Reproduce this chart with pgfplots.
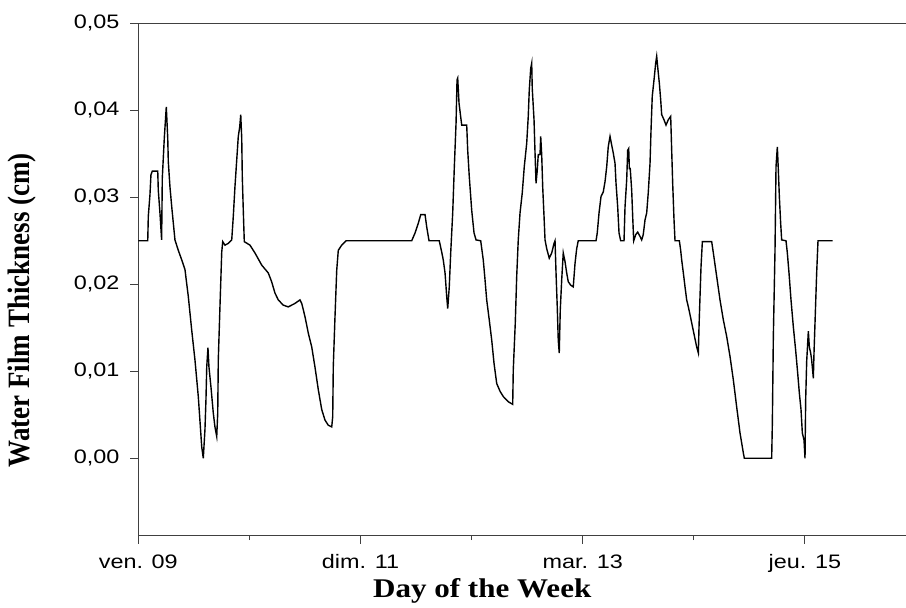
\documentclass[border=0pt]{standalone}
\usepackage{fontspec}
\setmainfont{Liberation Sans}
\newfontfamily\timesfont{Liberation Serif}
\usepackage{pgfplots}
\pgfplotsset{compat=1.18}
\begin{document}
\begin{tikzpicture}
\useasboundingbox (-69.15pt,-36.15pt) rectangle (383.85pt,267.85pt);
\begin{axis}[
  scale only axis, width=383.85pt, height=256.2pt,
  xmin=0, xmax=6.91, ymin=-0.0089, ymax=0.05,
  axis x line*=bottom, axis y line*=left,
  axis line style={draw=black!75, line width=0.6pt},
  xtick={0,2,4,6}, xticklabels={ven. 09, dim. 11, mar. 13, jeu. 15},
  minor xtick={1,3,5},
  ytick={0,0.01,0.02,0.03,0.04,0.05},
  tick align=outside,
  major tick length=4pt, minor tick length=2.2pt,
  every tick/.style={draw=black!75, line width=0.6pt},
  scaled y ticks=false,
  /pgf/number format/.cd, use comma, fixed, fixed zerofill, precision=2, assume math mode=true,
  /pgfplots/.cd,
  tick label style={font=\fontsize{9.75}{11}\selectfont, xscale=1.2},
  xticklabel style={yshift=-2pt},
  yticklabel style={xshift=-1pt},
  xlabel={Day of the Week}, ylabel={Water Film Thickness (cm)},
  label style={font=\timesfont\bfseries\fontsize{13.5}{15}\selectfont},
  xlabel style={at={(axis description cs:0.448,-0.108)}, anchor=center, xscale=1.15},
  ylabel style={at={(axis description cs:-0.1515,0.44)}, anchor=center, yscale=1.15},
]
\draw[black!75, line width=0.6pt] (rel axis cs:0,1) -- (rel axis cs:1,1);
\addplot[black, line width=0.7pt, mark=none] coordinates {
(0,0.025) (0.085,0.025) (0.09,0.0278) (0.105,0.0303) (0.114,0.0326) (0.126,0.033) (0.175,0.033)
(0.18,0.0308) (0.195,0.0282) (0.21,0.0251) (0.216,0.0322) (0.234,0.0368) (0.252,0.0404)
(0.265,0.0368) (0.27,0.0341) (0.285,0.0312) (0.301,0.0289) (0.33,0.0251) (0.36,0.0239)
(0.391,0.0228) (0.42,0.0217) (0.45,0.0186) (0.481,0.0147) (0.51,0.0113) (0.54,0.0071)
(0.571,0.0013) (0.585,0.0) (0.6,0.0033) (0.609,0.0067) (0.616,0.0105) (0.627,0.0127)
(0.636,0.0105) (0.654,0.0082) (0.675,0.0052) (0.69,0.0036) (0.706,0.0025) (0.715,0.0052)
(0.72,0.0113) (0.735,0.0174) (0.751,0.0237) (0.76,0.0249) (0.78,0.0245) (0.81,0.0247)
(0.841,0.0251) (0.855,0.0278) (0.87,0.0312) (0.886,0.0343) (0.9,0.037) (0.913,0.0381)
(0.922,0.0395) (0.931,0.0368) (0.936,0.0324) (0.945,0.0285) (0.954,0.0249) (1.005,0.0245)
(1.05,0.0236) (1.111,0.0222) (1.17,0.0213) (1.2,0.0203) (1.23,0.019) (1.26,0.0182)
(1.305,0.0176) (1.35,0.0174) (1.41,0.0178) (1.455,0.0182) (1.471,0.0178) (1.5,0.0163)
(1.53,0.0144) (1.561,0.0128) (1.59,0.0105) (1.62,0.0079) (1.651,0.0056) (1.68,0.0044)
(1.71,0.0038) (1.741,0.0036)
(1.75,0.0048) (1.755,0.0105) (1.77,0.0161) (1.786,0.0216) (1.8,0.0239) (1.831,0.0245)
(1.87,0.025) (2.461,0.025) (2.491,0.0259) (2.52,0.027) (2.542,0.028) (2.581,0.028)
(2.596,0.0266) (2.617,0.025) (2.709,0.025) (2.731,0.0237) (2.745,0.0228) (2.761,0.0213)
(2.776,0.0186) (2.785,0.0172) (2.799,0.0197) (2.812,0.0236) (2.83,0.0282) (2.844,0.0333)
(2.86,0.0385) (2.869,0.0435) (2.875,0.0437) (2.887,0.0408) (2.911,0.0383) (2.956,0.0383)
(2.965,0.0354) (2.979,0.0324) (3.001,0.0285) (3.022,0.0259) (3.04,0.0251) (3.082,0.025)
(3.105,0.0228) (3.121,0.0205) (3.136,0.0182) (3.159,0.0159) (3.181,0.0136) (3.202,0.0109)
(3.226,0.0086) (3.256,0.0077) (3.285,0.0071) (3.33,0.0065) (3.37,0.0062) (3.375,0.0101)
(3.393,0.0155) (3.406,0.0209) (3.42,0.0251) (3.436,0.0282) (3.456,0.0305) (3.474,0.0335)
(3.496,0.0362) (3.51,0.0393) (3.519,0.0423) (3.532,0.0448) (3.541,0.0454) (3.546,0.0425)
(3.562,0.0389) (3.571,0.0351) (3.58,0.0316) (3.591,0.0331) (3.6,0.0349) (3.616,0.0349)
(3.622,0.037) (3.631,0.0349) (3.64,0.0312) (3.652,0.0278) (3.661,0.0251) (3.676,0.0241)
(3.699,0.023) (3.721,0.0236) (3.742,0.0247) (3.751,0.025) (3.76,0.0213) (3.771,0.0174)
(3.78,0.0136) (3.789,0.0121) (3.798,0.017) (3.811,0.0205) (3.825,0.0236) (3.841,0.0226)
(3.856,0.0213) (3.87,0.0203) (3.892,0.0199) (3.915,0.0197) (3.931,0.0224) (3.946,0.0241)
(3.96,0.025) (4.12,0.025) (4.131,0.0259) (4.147,0.0282) (4.165,0.0301) (4.185,0.0306)
(4.201,0.0318) (4.216,0.0335) (4.23,0.0358) (4.246,0.037) (4.261,0.036) (4.275,0.0351)
(4.291,0.0339) (4.3,0.0316) (4.315,0.0289) (4.327,0.0259) (4.342,0.025) (4.372,0.025)
(4.381,0.0289) (4.396,0.032) (4.405,0.0354) (4.414,0.0356) (4.42,0.0333) (4.428,0.0333)
(4.441,0.0308) (4.45,0.0278) (4.459,0.025) (4.477,0.0257) (4.495,0.026) (4.516,0.0255)
(4.531,0.0251) (4.545,0.0257) (4.561,0.0274) (4.576,0.0282) (4.59,0.0305) (4.606,0.0339)
(4.615,0.0377) (4.626,0.0416) (4.642,0.0435) (4.657,0.0454) (4.666,0.0462) (4.678,0.0446)
(4.69,0.0431) (4.702,0.0412) (4.711,0.0395) (4.732,0.0389) (4.75,0.0383) (4.77,0.0389)
(4.792,0.0393) (4.801,0.0354) (4.81,0.0316) (4.822,0.0274) (4.831,0.025) (4.87,0.025)
(4.882,0.0239) (4.891,0.0228) (4.906,0.0213) (4.921,0.0197) (4.936,0.0182) (4.951,0.0174)
(4.966,0.0165) (4.995,0.0147) (5.026,0.0128) (5.041,0.0121) (5.047,0.0151) (5.056,0.0186)
(5.065,0.022) (5.077,0.0249) (5.161,0.0249) (5.176,0.0236) (5.206,0.0209) (5.236,0.0182)
(5.266,0.0159) (5.296,0.014) (5.326,0.0117) (5.356,0.009) (5.386,0.0059) (5.416,0.0029)
(5.446,0.0006) (5.455,0.0) (5.701,0.0) (5.707,0.004) (5.716,0.014) (5.731,0.0239)
(5.74,0.0335) (5.752,0.0358) (5.761,0.0331) (5.77,0.0301) (5.782,0.027) (5.791,0.0251)
(5.83,0.025) (5.842,0.0236) (5.857,0.0213) (5.875,0.0182) (5.896,0.0151) (5.917,0.0124)
(5.935,0.0098) (5.95,0.0075) (5.965,0.0056) (5.977,0.0029) (5.992,0.0021) (6.001,0.0)
(6.007,0.0067) (6.016,0.0111) (6.031,0.0146) (6.04,0.0128) (6.052,0.0121) (6.061,0.0113)
(6.076,0.0092) (6.082,0.0121) (6.094,0.0167) (6.106,0.0213) (6.118,0.025) (6.25,0.025)
};
\end{axis}
\end{tikzpicture}
\end{document}
